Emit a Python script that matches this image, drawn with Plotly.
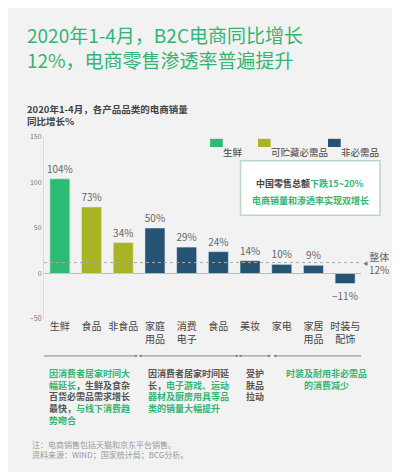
import plotly.graph_objects as go

categories = ['生鲜', '食品', '非食品', '家庭<br>用品', '消费<br>电子', '食品', '美妆', '家电', '家居<br>用品', '时装与<br>配饰']
values = [104, 73, 34, 50, 29, 24, 14, 10, 9, -11]
groups = ['生鲜', '可贮藏必需品', '可贮藏必需品', '非必需品', '非必需品', '非必需品', '非必需品', '非必需品', '非必需品', '非必需品']
overall = 12
colors = {'生鲜': '#2dbb74', '可贮藏必需品': '#a9b422', '非必需品': '#245373'}

FONT = 'Noto Sans CJK SC'
GREEN = '#34b574'
GRAY = '#555555'

fig = go.Figure()
idx = list(range(len(categories)))
for g in ['生鲜', '可贮藏必需品', '非必需品']:
    xs = [i for i in idx if groups[i] == g]
    fig.add_bar(x=xs, y=[values[i] for i in xs], name=g, marker_color=colors[g], width=0.63,
                text=[f'{values[i]}%' if values[i] > 0 else '' for i in xs],
                textposition='outside', textfont=dict(size=10, color='#666'), cliponaxis=False,
                constraintext='none')

# negative label
fig.add_annotation(x=9, y=values[9], text=f'−{abs(values[9])}%', showarrow=False, yanchor='top', yshift=-2,
                   font=dict(size=10, color='#666'))

# overall line
fig.add_hline(y=overall, line=dict(color='#aaaaaa', width=1, dash='dot'))
fig.add_annotation(x=1.0, xref='paper', y=overall, text='◀', showarrow=False, xanchor='left', xshift=0,
                   font=dict(size=5, color='#777'))
fig.add_annotation(x=1.0, xref='paper', y=overall, text=f'整体<br>{overall}%', showarrow=False,
                   xanchor='left', xshift=6, font=dict(size=10, color='#666'), align='center')

# legend drawn by hand
legend_items = [('生鲜', 0.524), ('可贮藏必需品', 0.675), ('非必需品', 0.896)]
for name, x in legend_items:
    fig.add_shape(type='rect', xref='paper', yref='paper', x0=x, x1=x + 0.04, y0=0.945, y1=0.99,
                  fillcolor=colors[name], line_width=0)
    fig.add_annotation(xref='paper', yref='paper', x=x + 0.045, y=0.967, xshift=-3, text=name, showarrow=False,
                       xanchor='left', font=dict(size=9.5, color='#444'))

# callout box
fig.add_shape(type='rect', xref='paper', yref='paper', x0=0.62, x1=1.06, y0=0.57, y1=0.87,
              fillcolor='white', line=dict(color='#b9d6c4', width=1.5))
fig.add_annotation(xref='paper', yref='paper', x=0.84, xanchor='center', y=0.79, showarrow=False,
                   text=f'<b>中国零售总额<span style="color:{GREEN}">下跌15~20%</span></b>',
                   font=dict(size=9, color='#444', family=FONT))
fig.add_annotation(xref='paper', yref='paper', x=0.84, xanchor='center', y=0.65, showarrow=False,
                   text='<b>电商销量和渗透率实现双增长</b>', font=dict(size=9, color=GREEN, family=FONT))

# bracket lines and group notes
spans = [(-0.54, 2.4), (2.55, 5.58), (5.7, 6.6), (6.8, 9.97)]
for a, b in spans:
    fig.add_shape(type='line', xref='x', yref='paper', x0=a, x1=b, y0=-0.203, y1=-0.203,
                  line=dict(color='#888', width=1))
    for e in (a, b):
        fig.add_shape(type='circle', xref='x', yref='paper', x0=e - 0.05, x1=e + 0.05, y0=-0.197, y1=-0.209,
                      fillcolor='#888', line_width=0)

def g(t):
    return f'<span style="color:{GREEN}">{t}</span>'

notes = [
    (0.93, g('因消费者居家时间大<br>幅延长') + '，生鲜及食杂<br>百货必需品需求增长<br>最快，' + g('与线下消费趋<br>势吻合')),
    (4.05, '因消费者居家时间延<br>长，' + g('电子游戏、运动<br>器材及厨房用具等品<br>类的销量大幅提升')),
    (6.15, '受护<br>肤品<br>拉动'),
    (8.4, g('时装及耐用非必需品<br>的消费减少')),
]
for x, t in notes:
    fig.add_annotation(x=x, xref='x', xanchor='center', yref='paper', y=-0.25, yanchor='top', text=f'<b>{t}</b>',
                       showarrow=False, align='center' if x > 6 else 'left',
                       font=dict(size=9, color=GRAY, family=FONT))
fig.add_annotation(x=0, xref='x', xanchor='left', xshift=-30, yref='paper', y=-0.65, yanchor='top',
                   align='left', showarrow=False,
                   text='注：电商销售包括天猫和京东平台销售。<br>资料来源：WIND；国家统计局；BCG分析。',
                   font=dict(size=8, color='#999', family=FONT))

# titles
fig.add_annotation(xref='paper', yref='paper', x=-0.06, y=1.0, yshift=118, xanchor='left', yanchor='top',
                   text='2020年1-4月，B2C电商同比增长<br>12%，电商零售渗透率普遍提升', align='left', showarrow=False,
                   font=dict(size=19, color=GREEN, family=FONT))
fig.add_annotation(xref='paper', yref='paper', x=-0.06, y=1.0, yshift=37, xanchor='left', yanchor='top',
                   text='<b>2020年1-4月，各产品品类的电商销量<br>同比增长%</b>', align='left', showarrow=False,
                   font=dict(size=9.5, color='#444', family=FONT))

fig.update_layout(
    width=400, height=472,
    margin=dict(l=36, r=47, t=129, b=161),
    paper_bgcolor='#f2f2f2', plot_bgcolor='#f2f2f2',
    font=dict(family=FONT),
    showlegend=False,
    xaxis=dict(tickmode='array', tickvals=idx, ticktext=categories, range=[-0.5, 9.5],
               tickfont=dict(size=10, color='#444'), showline=False, showgrid=False, zeroline=False),
    yaxis=dict(range=[-50, 150], tickvals=[-50, 0, 50, 100, 150], showgrid=False,
               zeroline=True, zerolinecolor='#bbbbbb', zerolinewidth=1,
               showline=True, linecolor='#dddddd', tickfont=dict(size=7, color='#777')),
)

fig.write_html('out.html')
